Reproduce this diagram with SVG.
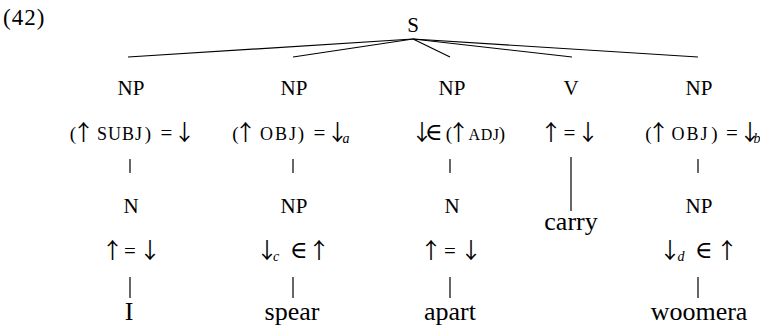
<svg xmlns="http://www.w3.org/2000/svg" width="760" height="326" viewBox="0 0 760 326">
<style>
text{font-family:"Liberation Serif","DejaVu Serif",serif;fill:#000;text-anchor:middle}
.cat{font-size:21px}
.ann{font-size:19px}
.eq{font-size:21px}
.sc{font-size:18px;letter-spacing:1px}
.ob{letter-spacing:2px}
.ad{font-size:16px;letter-spacing:0.5px}
.ar{font-family:"Noto Sans CJK JP","DejaVu Serif",sans-serif;font-size:22px}
.el{font-family:"DejaVu Serif",serif;font-size:24px}
.sub{font-size:14px;font-style:italic}
.leaf{font-size:26px}
line{stroke:#000;stroke-width:1.2}
</style>
<rect width="760" height="326" fill="#fff"/>
<text x="3" y="25" style="text-anchor:start;font-size:23px;letter-spacing:1px">(42)</text>
<g id="S"><text class="cat" x="413" y="32">S</text></g>
<g id="connectors">
<line x1="413" y1="39" x2="128" y2="57"/>
<line x1="413" y1="39" x2="293" y2="57"/>
<line x1="413" y1="39" x2="450" y2="57"/>
<line x1="413" y1="39" x2="572" y2="57"/>
<line x1="413" y1="39" x2="698" y2="57"/>
<line x1="130" y1="159" x2="130" y2="173"/>
<line x1="293" y1="159" x2="293" y2="173"/>
<line x1="450" y1="159" x2="450" y2="173"/>
<line x1="571" y1="157" x2="571" y2="211"/>
<line x1="698" y1="159" x2="698" y2="173"/>
<line x1="130" y1="277" x2="130" y2="298"/>
<line x1="293" y1="277" x2="293" y2="298"/>
<line x1="450" y1="277" x2="450" y2="298"/>
<line x1="698" y1="277" x2="698" y2="298"/>
</g>
<g id="col1">
<text class="cat" x="131" y="95">NP</text>
<text class="ann" y="140"><tspan x="73">(</tspan><tspan class="ar" x="83.5">↑</tspan><tspan class="sc" x="120">SUBJ</tspan><tspan x="148">)</tspan><tspan class="eq" x="166.5">=</tspan><tspan class="ar" x="184.5">↓</tspan></text>
<text class="cat" x="131" y="213">N</text>
<text class="ann" y="258"><tspan class="ar" x="112.5">↑</tspan><tspan class="eq" x="130">=</tspan><tspan class="ar" x="150">↓</tspan></text>
<text class="leaf" x="129" y="320">I</text>
</g>
<g id="col2">
<text class="cat" x="294" y="95">NP</text>
<text class="ann" y="140"><tspan x="235.5">(</tspan><tspan class="ar" x="245.5">↑</tspan><tspan class="sc ob" x="279">OBJ</tspan><tspan x="301">)</tspan><tspan class="eq" x="319.5">=</tspan><tspan class="ar" x="337.5">↓</tspan><tspan class="sub" x="346" dy="3">a</tspan></text>
<text class="cat" x="294" y="213">NP</text>
<text class="ann" y="258"><tspan class="ar" x="267">↓</tspan><tspan class="sub" x="276" dy="3">c</tspan><tspan class="el" x="299" dy="-3">∈</tspan><tspan class="ar" x="319">↑</tspan></text>
<text class="leaf" x="292" y="320">spear</text>
</g>
<g id="col3">
<text class="cat" x="452" y="95">NP</text>
<text class="ann" y="140"><tspan class="ar" x="422">↓</tspan><tspan class="el" x="434">∈</tspan><tspan x="449">(</tspan><tspan class="ar" x="458.5">↑</tspan><tspan class="ad" x="484">ADJ</tspan><tspan x="502">)</tspan></text>
<text class="cat" x="452" y="213">N</text>
<text class="ann" y="258"><tspan class="ar" x="431">↑</tspan><tspan class="eq" x="450">=</tspan><tspan class="ar" x="471">↓</tspan></text>
<text class="leaf" x="450" y="320">apart</text>
</g>
<g id="col4">
<text class="cat" x="571" y="95">V</text>
<text class="ann" y="140"><tspan class="ar" x="551">↑</tspan><tspan class="eq" x="569.5">=</tspan><tspan class="ar" x="588">↓</tspan></text>
<text class="leaf" x="571" y="230">carry</text>
</g>
<g id="col5">
<text class="cat" x="699" y="95">NP</text>
<text class="ann" y="140"><tspan x="648.5">(</tspan><tspan class="ar" x="658.5">↑</tspan><tspan class="sc ob" x="690.5">OBJ</tspan><tspan x="714.5">)</tspan><tspan class="eq" x="732">=</tspan><tspan class="ar" x="750">↓</tspan><tspan class="sub" x="757" dy="3">b</tspan></text>
<text class="cat" x="699" y="213">NP</text>
<text class="ann" y="258"><tspan class="ar" x="670">↓</tspan><tspan class="sub" x="681" dy="3">d</tspan><tspan class="el" x="704" dy="-3">∈</tspan><tspan class="ar" x="727">↑</tspan></text>
<text class="leaf" x="699" y="320">woomera</text>
</g>
</svg>
